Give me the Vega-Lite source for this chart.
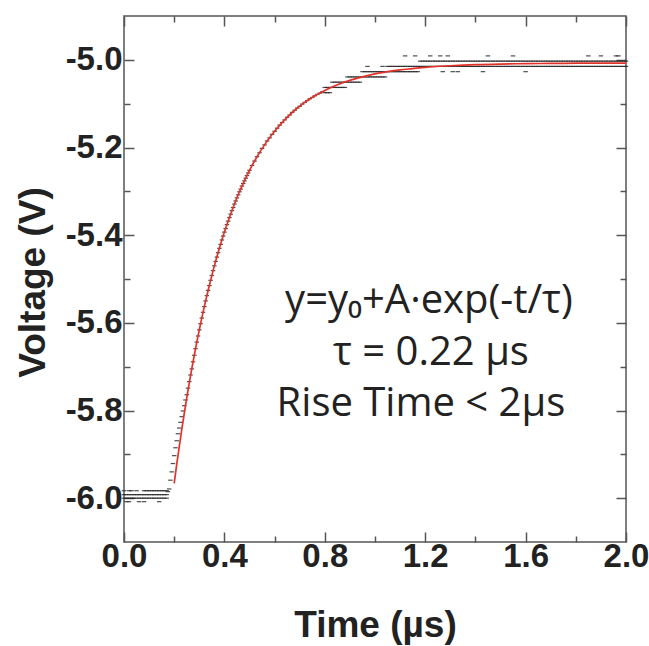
{
  "$schema": "https://vega.github.io/schema/vega-lite/v6.json",
  "width": 502,
  "height": 526,
  "autosize": "none",
  "padding": {"left": 124, "top": 16, "right": 23, "bottom": 104},
  "background": "white",
  "config": {
    "view": {"stroke": "#555", "strokeWidth": 1.5},
    "axis": {
      "domain": false,
      "grid": false,
      "tickColor": "#555",
      "tickWidth": 1.5,
      "zindex": 1,
      "labelFont": "Liberation Sans",
      "labelFontWeight": "bold",
      "labelFontSize": 33,
      "labelColor": "#222",
      "labelFlush": false,
      "labelOverlap": false,
      "labelBound": false,
      "titleFont": "Liberation Sans",
      "titleFontWeight": "bold",
      "titleFontSize": 37,
      "titleColor": "#222"
    }
  },
  "datasets": {
    "dots": [
      {"t":0,"v":-5.992},{"t":0,"v":-6},{"t":0,"v":-5.983},
      {"t":0.01,"v":-5.992},{"t":0.01,"v":-6},{"t":0.01,"v":-6.008},
      {"t":0.02,"v":-5.992},{"t":0.02,"v":-6},{"t":0.02,"v":-5.983},{"t":0.02,"v":-6.008},
      {"t":0.03,"v":-5.992},{"t":0.03,"v":-6},{"t":0.03,"v":-5.983},
      {"t":0.04,"v":-5.992},{"t":0.04,"v":-6},
      {"t":0.05,"v":-5.992},{"t":0.05,"v":-6},{"t":0.05,"v":-5.983},
      {"t":0.06,"v":-5.992},{"t":0.06,"v":-6},{"t":0.06,"v":-6.008},
      {"t":0.07,"v":-5.992},{"t":0.07,"v":-6},
      {"t":0.08,"v":-5.992},{"t":0.08,"v":-6},{"t":0.08,"v":-5.983},{"t":0.08,"v":-6.008},
      {"t":0.09,"v":-5.992},{"t":0.09,"v":-6},{"t":0.09,"v":-5.983},
      {"t":0.10,"v":-5.992},{"t":0.10,"v":-6},{"t":0.10,"v":-5.983},
      {"t":0.11,"v":-5.992},{"t":0.11,"v":-6},{"t":0.11,"v":-5.983},
      {"t":0.12,"v":-5.992},{"t":0.12,"v":-6},{"t":0.12,"v":-5.983},
      {"t":0.13,"v":-5.992},{"t":0.13,"v":-6},{"t":0.13,"v":-5.983},
      {"t":0.14,"v":-5.992},{"t":0.14,"v":-6},{"t":0.14,"v":-5.983},{"t":0.14,"v":-6.008},
      {"t":0.15,"v":-5.992},{"t":0.15,"v":-6},{"t":0.15,"v":-5.983},
      {"t":0.16,"v":-5.992},{"t":0.16,"v":-6},{"t":0.16,"v":-5.983},
      {"t":0.17,"v":-5.992},{"t":0.17,"v":-6},{"t":0.17,"v":-5.983},
      {"t":0.175,"v":-5.985},{"t":0.18,"v":-5.979},{"t":0.185,"v":-5.959},{"t":0.19,"v":-5.94},
      {"t":0.195,"v":-5.921},{"t":0.2,"v":-5.903},{"t":0.205,"v":-5.885},{"t":0.21,"v":-5.869},
      {"t":0.215,"v":-5.853},{"t":0.22,"v":-5.84},{"t":0.225,"v":-5.827},{"t":0.23,"v":-5.814},
      {"t":0.235,"v":-5.801},{"t":0.24,"v":-5.789},{"t":0.245,"v":-5.776},{"t":0.25,"v":-5.764},
      {"t":0.255,"v":-5.749},{"t":0.26,"v":-5.734},{"t":0.265,"v":-5.719},{"t":0.27,"v":-5.705},
      {"t":0.275,"v":-5.689},{"t":0.28,"v":-5.674},{"t":0.285,"v":-5.659},{"t":0.29,"v":-5.644},
      {"t":0.295,"v":-5.63},{"t":0.3,"v":-5.616},{"t":0.305,"v":-5.602},{"t":0.31,"v":-5.589},
      {"t":0.315,"v":-5.576},{"t":0.32,"v":-5.563},{"t":0.325,"v":-5.55},{"t":0.33,"v":-5.538},
      {"t":0.335,"v":-5.526},{"t":0.34,"v":-5.515},{"t":0.345,"v":-5.503},{"t":0.35,"v":-5.492},
      {"t":0.355,"v":-5.481},{"t":0.36,"v":-5.47},{"t":0.365,"v":-5.46},{"t":0.37,"v":-5.45},
      {"t":0.375,"v":-5.44},{"t":0.38,"v":-5.43},{"t":0.385,"v":-5.421},{"t":0.39,"v":-5.411},
      {"t":0.395,"v":-5.402},{"t":0.4,"v":-5.393},{"t":0.405,"v":-5.385},{"t":0.41,"v":-5.376},
      {"t":0.415,"v":-5.368},{"t":0.42,"v":-5.36},{"t":0.425,"v":-5.352},{"t":0.43,"v":-5.344},
      {"t":0.435,"v":-5.337},{"t":0.44,"v":-5.329},{"t":0.445,"v":-5.322},{"t":0.45,"v":-5.315},
      {"t":0.455,"v":-5.308},{"t":0.46,"v":-5.301},{"t":0.465,"v":-5.295},{"t":0.47,"v":-5.288},
      {"t":0.475,"v":-5.282},{"t":0.48,"v":-5.276},{"t":0.485,"v":-5.27},{"t":0.49,"v":-5.264},
      {"t":0.495,"v":-5.258},{"t":0.5,"v":-5.252},
      {"t":0.51,"v":-5.241},{"t":0.52,"v":-5.231},{"t":0.53,"v":-5.221},{"t":0.54,"v":-5.212},
      {"t":0.55,"v":-5.202},{"t":0.56,"v":-5.194},{"t":0.57,"v":-5.185},{"t":0.58,"v":-5.178},
      {"t":0.59,"v":-5.17},{"t":0.6,"v":-5.163},{"t":0.61,"v":-5.156},{"t":0.62,"v":-5.149},
      {"t":0.63,"v":-5.143},{"t":0.64,"v":-5.137},{"t":0.65,"v":-5.131},{"t":0.66,"v":-5.126},
      {"t":0.67,"v":-5.12},{"t":0.68,"v":-5.115},{"t":0.69,"v":-5.11},{"t":0.7,"v":-5.106},
      {"t":0.71,"v":-5.101},{"t":0.72,"v":-5.097},{"t":0.73,"v":-5.093},{"t":0.74,"v":-5.089},
      {"t":0.75,"v":-5.086},{"t":0.76,"v":-5.082},{"t":0.77,"v":-5.079},{"t":0.78,"v":-5.076},
      {"t":0.79,"v":-5.073},
      {"t":0.8,"v":-5.063},{"t":0.8,"v":-5.075},{"t":0.81,"v":-5.063},{"t":0.81,"v":-5.075},
      {"t":0.82,"v":-5.063},{"t":0.82,"v":-5.075},
      {"t":0.83,"v":-5.051},{"t":0.83,"v":-5.063},{"t":0.84,"v":-5.051},{"t":0.84,"v":-5.063},
      {"t":0.85,"v":-5.051},{"t":0.85,"v":-5.063},{"t":0.86,"v":-5.051},{"t":0.86,"v":-5.063},
      {"t":0.87,"v":-5.051},{"t":0.87,"v":-5.063},{"t":0.88,"v":-5.051},{"t":0.88,"v":-5.063},
      {"t":0.89,"v":-5.039},{"t":0.89,"v":-5.051},{"t":0.9,"v":-5.039},{"t":0.9,"v":-5.051},
      {"t":0.91,"v":-5.039},{"t":0.91,"v":-5.051},{"t":0.92,"v":-5.039},{"t":0.92,"v":-5.051},
      {"t":0.93,"v":-5.039},{"t":0.93,"v":-5.051},{"t":0.94,"v":-5.039},{"t":0.94,"v":-5.051},
      {"t":0.95,"v":-5.027},{"t":0.95,"v":-5.039},{"t":0.96,"v":-5.027},{"t":0.96,"v":-5.039},
      {"t":0.97,"v":-5.027},{"t":0.97,"v":-5.039},{"t":0.98,"v":-5.027},{"t":0.98,"v":-5.039},
      {"t":0.99,"v":-5.027},{"t":0.99,"v":-5.039},{"t":1.0,"v":-5.027},{"t":1.0,"v":-5.039},
      {"t":1.01,"v":-5.027},{"t":1.01,"v":-5.039},{"t":1.02,"v":-5.027},{"t":1.02,"v":-5.039},
      {"t":1.03,"v":-5.027},{"t":1.03,"v":-5.039},{"t":1.04,"v":-5.027},{"t":1.04,"v":-5.039},
      {"t":1.05,"v":-5.015},{"t":1.05,"v":-5.027},{"t":1.06,"v":-5.015},{"t":1.06,"v":-5.027},
      {"t":1.07,"v":-5.015},{"t":1.07,"v":-5.027},{"t":1.08,"v":-5.015},{"t":1.08,"v":-5.027},
      {"t":1.09,"v":-5.015},{"t":1.09,"v":-5.027},{"t":1.1,"v":-5.015},{"t":1.1,"v":-5.027},
      {"t":1.11,"v":-5.015},{"t":1.11,"v":-5.027},{"t":1.12,"v":-5.015},{"t":1.12,"v":-5.027},
      {"t":1.13,"v":-5.015},{"t":1.13,"v":-5.027},{"t":1.14,"v":-5.015},{"t":1.14,"v":-5.027},
      {"t":1.15,"v":-5.015},{"t":1.15,"v":-5.027},{"t":1.16,"v":-5.015},{"t":1.16,"v":-5.027},
      {"t":1.17,"v":-5.015},{"t":1.17,"v":-5.027},
      {"t":1.18,"v":-5.003},{"t":1.18,"v":-5.015},{"t":1.19,"v":-5.003},{"t":1.19,"v":-5.015},
      {"t":1.2,"v":-5.003},{"t":1.2,"v":-5.015},{"t":1.21,"v":-5.003},{"t":1.21,"v":-5.015},
      {"t":1.22,"v":-5.003},{"t":1.22,"v":-5.015},{"t":1.23,"v":-5.003},{"t":1.23,"v":-5.015},
      {"t":1.24,"v":-5.003},{"t":1.24,"v":-5.015},{"t":1.25,"v":-5.003},{"t":1.25,"v":-5.015},
      {"t":1.26,"v":-5.003},{"t":1.26,"v":-5.015},{"t":1.27,"v":-5.003},{"t":1.27,"v":-5.015},
      {"t":1.28,"v":-5.003},{"t":1.28,"v":-5.015},{"t":1.29,"v":-5.003},{"t":1.29,"v":-5.015},
      {"t":1.3,"v":-5.003},{"t":1.3,"v":-5.015},{"t":1.31,"v":-5.003},{"t":1.31,"v":-5.015},
      {"t":1.32,"v":-5.003},{"t":1.32,"v":-5.015},{"t":1.33,"v":-5.003},{"t":1.33,"v":-5.015},
      {"t":1.34,"v":-5.003},{"t":1.34,"v":-5.015},{"t":1.35,"v":-5.003},{"t":1.35,"v":-5.015},
      {"t":1.36,"v":-5.003},{"t":1.36,"v":-5.015},{"t":1.37,"v":-5.003},{"t":1.37,"v":-5.015},
      {"t":1.38,"v":-5.003},{"t":1.38,"v":-5.015},{"t":1.39,"v":-5.003},{"t":1.39,"v":-5.015},
      {"t":1.4,"v":-5.003},{"t":1.4,"v":-5.015},{"t":1.41,"v":-5.003},{"t":1.41,"v":-5.015},
      {"t":1.42,"v":-5.003},{"t":1.42,"v":-5.015},{"t":1.43,"v":-5.003},{"t":1.43,"v":-5.015},
      {"t":1.44,"v":-5.003},{"t":1.44,"v":-5.015},{"t":1.45,"v":-5.003},{"t":1.45,"v":-5.015},
      {"t":1.46,"v":-5.003},{"t":1.46,"v":-5.015},{"t":1.47,"v":-5.003},{"t":1.47,"v":-5.015},
      {"t":1.48,"v":-5.003},{"t":1.48,"v":-5.015},{"t":1.49,"v":-5.003},{"t":1.49,"v":-5.015},
      {"t":1.5,"v":-5.003},{"t":1.5,"v":-5.015},{"t":1.51,"v":-5.003},{"t":1.51,"v":-5.015},
      {"t":1.52,"v":-5.003},{"t":1.52,"v":-5.015},{"t":1.53,"v":-5.003},{"t":1.53,"v":-5.015},
      {"t":1.54,"v":-5.003},{"t":1.54,"v":-5.015},{"t":1.55,"v":-5.003},{"t":1.55,"v":-5.015},
      {"t":1.56,"v":-5.003},{"t":1.56,"v":-5.015},{"t":1.57,"v":-5.003},{"t":1.57,"v":-5.015},
      {"t":1.58,"v":-5.003},{"t":1.58,"v":-5.015},{"t":1.59,"v":-5.003},{"t":1.59,"v":-5.015},
      {"t":1.6,"v":-5.003},{"t":1.6,"v":-5.015},{"t":1.61,"v":-5.003},{"t":1.61,"v":-5.015},
      {"t":1.62,"v":-5.003},{"t":1.62,"v":-5.015},{"t":1.63,"v":-5.003},{"t":1.63,"v":-5.015},
      {"t":1.64,"v":-5.003},{"t":1.64,"v":-5.015},{"t":1.65,"v":-5.003},{"t":1.65,"v":-5.015},
      {"t":1.66,"v":-5.003},{"t":1.66,"v":-5.015},{"t":1.67,"v":-5.003},{"t":1.67,"v":-5.015},
      {"t":1.68,"v":-5.003},{"t":1.68,"v":-5.015},{"t":1.69,"v":-5.003},{"t":1.69,"v":-5.015},
      {"t":1.7,"v":-5.003},{"t":1.7,"v":-5.015},{"t":1.71,"v":-5.003},{"t":1.71,"v":-5.015},
      {"t":1.72,"v":-5.003},{"t":1.72,"v":-5.015},{"t":1.73,"v":-5.003},{"t":1.73,"v":-5.015},
      {"t":1.74,"v":-5.003},{"t":1.74,"v":-5.015},{"t":1.75,"v":-5.003},{"t":1.75,"v":-5.015},
      {"t":1.76,"v":-5.003},{"t":1.76,"v":-5.015},{"t":1.77,"v":-5.003},{"t":1.77,"v":-5.015},
      {"t":1.78,"v":-5.003},{"t":1.78,"v":-5.015},{"t":1.79,"v":-5.003},{"t":1.79,"v":-5.015},
      {"t":1.8,"v":-5.003},{"t":1.8,"v":-5.015},{"t":1.81,"v":-5.003},{"t":1.81,"v":-5.015},
      {"t":1.82,"v":-5.003},{"t":1.82,"v":-5.015},{"t":1.83,"v":-5.003},{"t":1.83,"v":-5.015},
      {"t":1.84,"v":-5.003},{"t":1.84,"v":-5.015},{"t":1.85,"v":-5.003},{"t":1.85,"v":-5.015},
      {"t":1.86,"v":-5.003},{"t":1.86,"v":-5.015},{"t":1.87,"v":-5.003},{"t":1.87,"v":-5.015},
      {"t":1.88,"v":-5.003},{"t":1.88,"v":-5.015},{"t":1.89,"v":-5.003},{"t":1.89,"v":-5.015},
      {"t":1.9,"v":-5.003},{"t":1.9,"v":-5.015},{"t":1.91,"v":-5.003},{"t":1.91,"v":-5.015},
      {"t":1.92,"v":-5.003},{"t":1.92,"v":-5.015},{"t":1.93,"v":-5.003},{"t":1.93,"v":-5.015},
      {"t":1.94,"v":-5.003},{"t":1.94,"v":-5.015},{"t":1.95,"v":-5.003},{"t":1.95,"v":-5.015},
      {"t":1.96,"v":-5.003},{"t":1.96,"v":-5.015},{"t":1.97,"v":-5.003},{"t":1.97,"v":-5.015},
      {"t":1.98,"v":-5.003},{"t":1.98,"v":-5.015},{"t":1.99,"v":-5.003},{"t":1.99,"v":-5.015},
      {"t":2.0,"v":-5.003},{"t":2.0,"v":-5.015},
      {"t":1.12,"v":-4.991},{"t":1.16,"v":-4.991},{"t":1.22,"v":-4.991},{"t":1.26,"v":-4.991},
      {"t":1.29,"v":-4.991},{"t":1.45,"v":-4.991},{"t":1.55,"v":-4.991},{"t":1.85,"v":-4.991},
      {"t":1.9,"v":-4.991},{"t":1.96,"v":-4.991},{"t":1.97,"v":-4.991},
      {"t":1.27,"v":-5.027},{"t":1.31,"v":-5.027},{"t":1.33,"v":-5.027},{"t":1.43,"v":-5.027},
      {"t":1.6,"v":-5.027},{"t":0.97,"v":-5.015},{"t":1.03,"v":-5.015}
    ],
    "fit": [
      {"t":0.2,"v":-5.966},{"t":0.21,"v":-5.923},{"t":0.22,"v":-5.883},{"t":0.23,"v":-5.844},
      {"t":0.24,"v":-5.807},{"t":0.25,"v":-5.771},{"t":0.26,"v":-5.737},{"t":0.27,"v":-5.705},
      {"t":0.28,"v":-5.674},{"t":0.29,"v":-5.644},{"t":0.3,"v":-5.616},{"t":0.32,"v":-5.563},
      {"t":0.34,"v":-5.515},{"t":0.36,"v":-5.47},{"t":0.38,"v":-5.43},{"t":0.4,"v":-5.393},
      {"t":0.42,"v":-5.36},{"t":0.44,"v":-5.329},{"t":0.46,"v":-5.301},{"t":0.48,"v":-5.276},
      {"t":0.5,"v":-5.252},{"t":0.53,"v":-5.221},{"t":0.56,"v":-5.194},{"t":0.6,"v":-5.163},
      {"t":0.64,"v":-5.137},{"t":0.68,"v":-5.115},{"t":0.72,"v":-5.097},{"t":0.76,"v":-5.082},
      {"t":0.8,"v":-5.07},{"t":0.85,"v":-5.057},{"t":0.9,"v":-5.047},{"t":0.95,"v":-5.039},
      {"t":1.0,"v":-5.032},{"t":1.05,"v":-5.027},{"t":1.1,"v":-5.023},{"t":1.15,"v":-5.02},
      {"t":1.2,"v":-5.017},{"t":1.3,"v":-5.0135},{"t":1.4,"v":-5.011},{"t":1.5,"v":-5.0096},
      {"t":1.6,"v":-5.0087},{"t":1.7,"v":-5.0081},{"t":1.8,"v":-5.0077},{"t":1.9,"v":-5.0075},
      {"t":2.0,"v":-5.0073}
    ]
  },
  "layer": [
    {
      "data": {"name": "dots"},
      "mark": {"type": "point", "shape": "M-1,0L1,0", "size": 20, "strokeWidth": 1.2, "color": "#222", "opacity": 0.8, "filled": false},
      "encoding": {
        "x": {"field": "t", "type": "quantitative", "scale": {"domain": [0, 2], "nice": false, "zero": false},
          "axis": {"orient": "bottom", "values": [0, 0.2, 0.4, 0.6, 0.8, 1.0, 1.2, 1.4, 1.6, 1.8, 2.0],
            "labelExpr": "round(datum.value*10) % 4 === 0 ? format(datum.value, '.1f') : ''",
            "tickSize": {"condition": {"test": "round(datum.value*10) % 4 === 0", "value": -10}, "value": -6},
            "labelPadding": 8,
            "title": "Time (µs)", "titleX": 251, "titleY": 94, "titleAlign": "center", "titleBaseline": "alphabetic"}},
        "y": {"field": "v", "type": "quantitative", "scale": {"domain": [-6.1, -4.9], "nice": false, "zero": false},
          "axis": {"orient": "left", "values": [-6.0, -5.9, -5.8, -5.7, -5.6, -5.5, -5.4, -5.3, -5.2, -5.1, -5.0],
            "labelExpr": "round(datum.value*10) % 2 === 0 ? '-' + format(abs(datum.value), '.1f') : ''",
            "tickSize": {"condition": {"test": "round(datum.value*10) % 2 === 0", "value": -10}, "value": -6},
            "labelPadding": 12,
            "title": "Voltage (V)", "titleX": -91, "titleY": 266, "titleAngle": -90, "titleAlign": "center", "titleBaseline": "middle"}}
      }
    },
    {
      "data": {"name": "fit"},
      "mark": {"type": "line", "color": "#e2332a", "strokeWidth": 1.7, "interpolate": "monotone"},
      "encoding": {
        "x": {"field": "t", "type": "quantitative",
          "axis": {"orient": "top", "values": [0, 0.2, 0.4, 0.6, 0.8, 1.0, 1.2, 1.4, 1.6, 1.8, 2.0],
            "tickSize": {"condition": {"test": "round(datum.value*10) % 4 === 0", "value": -10}, "value": -6},
            "labels": true, "labelColor": "#ffffff", "labelFontSize": 2, "labelPadding": 14, "title": null}},
        "y": {"field": "v", "type": "quantitative",
          "axis": {"orient": "right", "values": [-6.0, -5.9, -5.8, -5.7, -5.6, -5.5, -5.4, -5.3, -5.2, -5.1, -5.0],
            "tickSize": {"condition": {"test": "round(datum.value*10) % 2 === 0", "value": -10}, "value": -6},
            "labels": true, "labelColor": "#ffffff", "labelFontSize": 2, "labelPadding": 14, "title": null}}
      }
    },
    {
      "data": {"values": [{}]},
      "mark": {"type": "text", "font": "Open Sans", "fontSize": 40, "color": "#222", "align": "center", "baseline": "alphabetic"},
      "encoding": {
        "x": {"datum": 1.215, "type": "quantitative", "axis": null},
        "y": {"datum": -5.5787, "type": "quantitative", "axis": null},
        "text": {"value": "y=y₀+A·exp(-t/τ)"}
      }
    },
    {
      "data": {"values": [{}]},
      "mark": {"type": "text", "font": "Open Sans", "fontSize": 40, "color": "#222", "align": "center", "baseline": "alphabetic"},
      "encoding": {
        "x": {"datum": 1.223, "type": "quantitative", "axis": null},
        "y": {"datum": -5.6957, "type": "quantitative", "axis": null},
        "text": {"value": "τ = 0.22 µs"}
      }
    },
    {
      "data": {"values": [{}]},
      "mark": {"type": "text", "font": "Open Sans", "fontSize": 40, "color": "#222", "align": "center", "baseline": "alphabetic"},
      "encoding": {
        "x": {"datum": 1.183, "type": "quantitative", "axis": null},
        "y": {"datum": -5.8127, "type": "quantitative", "axis": null},
        "text": {"value": "Rise Time < 2µs"}
      }
    }
  ],
  "resolve": {"axis": {"x": "independent", "y": "independent"}}
}
